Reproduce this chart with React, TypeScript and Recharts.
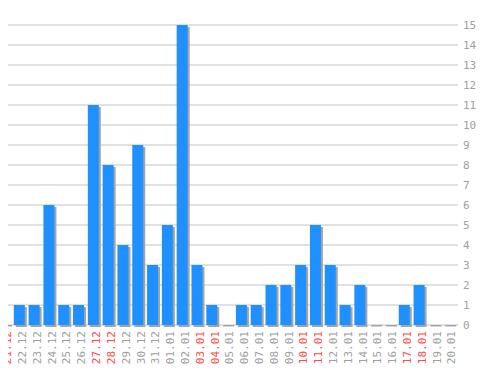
import { BarChart, Bar, XAxis, YAxis, CartesianGrid } from "recharts";

const days = [
    "21.12", "22.12", "23.12", "24.12", "25.12", "26.12", "27.12", "28.12",
    "29.12", "30.12", "31.12", "01.01", "02.01", "03.01", "04.01", "05.01",
    "06.01", "07.01", "08.01", "09.01", "10.01", "11.01", "12.01", "13.01",
    "14.01", "15.01", "16.01", "17.01", "18.01", "19.01", "20.01"
];

const counts = [
    0, 1, 1, 6, 1, 1, 11, 8, 4, 9, 3, 5, 15, 3, 1, 0,
    1, 1, 2, 2, 3, 5, 3, 1, 2, 0, 0, 1, 2, 0, 0
];

const weekendDays = [
    "21.12", "27.12", "28.12", "03.01", "04.01", "10.01", "11.01", "17.01", "18.01"
];

const yTicks = [0, 1, 2, 3, 4, 5, 6, 7, 8, 9, 10, 11, 12, 13, 14, 15];

const data = days.map((day, i) => ({ day, count: counts[i] }));

const FONT = '"DejaVu Sans Mono", monospace';

function DayTick(props: any) {
    const { x, y, payload } = props;
    const red = weekendDays.includes(payload.value);
    return (
        <text
            transform={`translate(${x + 3},${y + 6}) rotate(-90)`}
            textAnchor="end"
            dy="0.35em"
            fontFamily={FONT}
            fontSize={11}
            fill={red ? "#ff4b4b" : "#a0a0a0"}
        >
            {payload.value}
        </text>
    );
}

function ShadowBar(props: any) {
    const { x, y, width, height } = props;
    if (!height) {
        // empty day: only the shadow line shows on the baseline
        return <rect x={x + 2} y={y} width={width} height={1.5} fill="#a4a4a4" />;
    }
    return (
        <g>
            <rect x={x + 2} y={y + 2} width={width} height={height} fill="#a4a4a4" />
            <rect x={x} y={y} width={width} height={height} fill="#1e90ff" />
        </g>
    );
}

export default function App() {
    return (
        <div style={{ margin: "-8px 0 0 -8px", background: "#fff", width: 498, height: 370 }}>
            <BarChart
                width={498}
                height={370}
                data={data}
                margin={{ top: 25, right: 0, bottom: 0, left: -3 }}
                barSize={11}
            >
                <CartesianGrid vertical={false} stroke="#c4c4c4" />
                <XAxis
                    dataKey="day"
                    interval={0}
                    height={45}
                    axisLine={false}
                    tickLine={false}
                    tickSize={0}
                    tickMargin={0}
                    tick={<DayTick />}
                />
                <YAxis
                    orientation="right"
                    width={42}
                    domain={[0, 15]}
                    ticks={yTicks}
                    interval={0}
                    axisLine={false}
                    tickSize={2}
                    tickMargin={5}
                    tickLine={{ stroke: "#c4c4c4" }}
                    tick={{ fill: "#a0a0a0", fontSize: 11, fontFamily: FONT, textAnchor: "start" }}
                />
                <Bar dataKey="count" shape={<ShadowBar />} isAnimationActive={false} />
            </BarChart>
        </div>
    );
}
